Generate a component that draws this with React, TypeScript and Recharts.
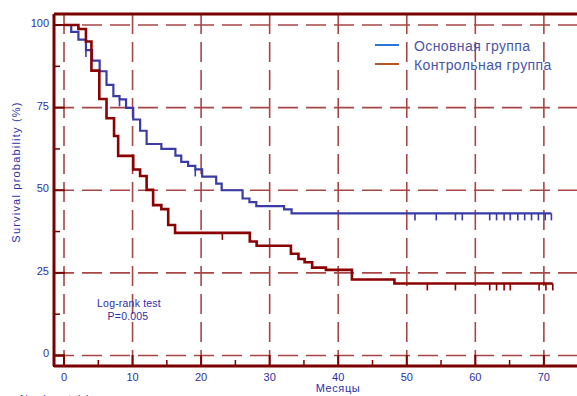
import React from 'react';
import {
  ComposedChart,
  Line,
  XAxis,
  YAxis,
  CartesianGrid,
  ReferenceLine,
  ReferenceArea,
} from 'recharts';

// Основная группа: moments of events (months) and survival (%) after each step
const mainEventTimes = [0, 1.05, 2.1, 3.2, 4.1, 5.2, 6.2, 7.2, 8.1, 9.05, 10.1, 11.1, 12.05, 14.2, 16.25, 17.1, 18.1, 19.15, 20.15, 22.2, 23.0, 26.05, 27.05, 28.05, 32.1, 33.2];
const mainSurvival = [100, 97.9, 95.6, 92.4, 89.2, 86.0, 81.9, 78.5, 77.5, 74.9, 71.4, 68.0, 64.0, 62.5, 60.5, 58.6, 57.4, 56.3, 54.1, 52.0, 50.0, 47.5, 46.4, 45.2, 44.2, 43.0];
const mainCensored = [3.2, 8.1, 19.15, 51.2, 54.3, 57.1, 58.1, 62.1, 63.1, 64.2, 65.1, 66.2, 67.2, 68.2, 69.2, 70.2, 71.1];

// Контрольная группа
const controlEventTimes = [0, 2.1, 3.2, 4.0, 5.15, 6.2, 7.3, 7.9, 10.1, 11.1, 12.05, 13.0, 14.2, 15.2, 16.2, 27.1, 28.1, 33.1, 34.2, 35.1, 36.2, 38.2, 42.0, 48.2];
const controlSurvival = [100, 98.8, 95.0, 86.2, 77.6, 71.8, 66.4, 60.4, 56.3, 54.3, 50.1, 45.5, 44.3, 39.5, 37.1, 34.5, 33.2, 30.8, 29.2, 28.2, 26.6, 25.9, 23.0, 21.8];
const controlCensored = [23.1, 53.0, 57.1, 62.1, 63.1, 64.2, 65.1, 69.3, 70.3, 71.3];

const xTicks = [0, 5, 10, 15, 20, 25, 30, 35, 40, 45, 50, 55, 60, 65, 70];
const yTicks = [0, 12.5, 25, 37.5, 50, 62.5, 75, 87.5, 100];
const gridX = [0, 10, 20, 30, 40, 50, 60, 70];
const gridY = [0, 25, 50, 75, 100];

const X_MIN = -1.46;
const X_MAX = 76;
const Y_MIN = -3.18;
const Y_MAX = 103.33;

const AXIS = '#7a0000';
const GRID = '#a84646';
const TEXT = '#2e2ea6';
const FONT = '"Liberation Sans", Arial, sans-serif';

type Pt = { t: number; s: number; c?: boolean };

const buildCurve = (times: number[], surv: number[], censored: number[]): Pt[] => {
  const pts: Pt[] = times.map((t, i) => ({ t, s: surv[i] }));
  censored.forEach((c) => {
    const same = pts.find((p) => p.t === c);
    if (same) {
      same.c = true;
      return;
    }
    let s = surv[0];
    times.forEach((t, i) => {
      if (t <= c) s = surv[i];
    });
    pts.push({ t: c, s, c: true });
  });
  return pts.sort((a, b) => a.t - b.t);
};

const mainData = buildCurve(mainEventTimes, mainSurvival, mainCensored);
const controlData = buildCurve(controlEventTimes, controlSurvival, controlCensored);

const censorMark = (color: string) => (props: any) => {
  const { cx, cy, payload, index } = props;
  if (!payload || !payload.c) return <g key={`n-${index}`} />;
  return <line key={`c-${index}`} x1={cx} x2={cx} y1={cy} y2={cy + 7} stroke={color} strokeWidth={1.6} />;
};

const XTick = (props: any) => {
  const { x, y, payload } = props;
  const major = payload.value % 10 === 0;
  return (
    <g>
      <line x1={x} x2={x} y1={y} y2={y - (major ? 11 : 6)} stroke={AXIS} strokeWidth={major ? 2 : 1.5} />
      {major && (
        <text x={x} y={y + 15} textAnchor="middle" fontSize={11} fill={TEXT} fontFamily={FONT}>
          {payload.value}
        </text>
      )}
    </g>
  );
};

const YTick = (props: any) => {
  const { x, y, payload } = props;
  const major = payload.value % 25 === 0;
  return (
    <g>
      <line x1={x} x2={x + (major ? 11 : 6)} y1={y} y2={y} stroke={AXIS} strokeWidth={major ? 2 : 1.5} />
      {major && (
        <text x={x - 5} y={y + 2} textAnchor="end" fontSize={11} fill={TEXT} fontFamily={FONT}>
          {payload.value}
        </text>
      )}
    </g>
  );
};

export default function App() {
  return (
    <div style={{ position: 'absolute', left: 0, top: 0, width: 577, height: 396, overflow: 'hidden', background: '#fff' }}>
      <ComposedChart width={600} height={396} margin={{ top: 14, right: 15, bottom: 0, left: 0 }}>
        <CartesianGrid
          verticalValues={gridX}
          horizontalValues={gridY}
          stroke={GRID}
          strokeWidth={1.6}
          strokeDasharray="20 8"
        />
        <XAxis
          type="number"
          dataKey="t"
          domain={[X_MIN, X_MAX]}
          allowDataOverflow
          ticks={xTicks}
          interval={0}
          height={30}
          tickLine={false}
          tickSize={0}
          tickMargin={0}
          axisLine={{ stroke: AXIS, strokeWidth: 3 }}
          tick={<XTick />}
        />
        <YAxis
          type="number"
          domain={[Y_MIN, Y_MAX]}
          allowDataOverflow
          ticks={yTicks}
          interval={0}
          width={54}
          tickLine={false}
          tickSize={0}
          tickMargin={0}
          axisLine={{ stroke: AXIS, strokeWidth: 3 }}
          tick={<YTick />}
        />
        <ReferenceLine y={Y_MAX} stroke={AXIS} strokeWidth={3} />
        <ReferenceArea x1={X_MIN} x2={0} y1={Y_MIN} y2={0} fill="none" stroke={AXIS} strokeWidth={2} />
        <Line
          data={mainData}
          dataKey="s"
          type="stepAfter"
          stroke="#3a3aa8"
          strokeWidth={2.2}
          dot={censorMark('#3a3aa8')}
          activeDot={false}
          isAnimationActive={false}
        />
        <Line
          data={controlData}
          dataKey="s"
          type="stepAfter"
          stroke="#8b0000"
          strokeWidth={2.6}
          dot={censorMark('#8b0000')}
          activeDot={false}
          isAnimationActive={false}
        />
      </ComposedChart>
      <svg width={577} height={396} style={{ position: 'absolute', left: 0, top: 0, pointerEvents: 'none' }} fontFamily={FONT}>
        <text transform="translate(20,172) rotate(-90)" textAnchor="middle" fontSize={11} fill={TEXT} letterSpacing={1.2}>
          Survival probability (%)
        </text>
        <text x={338} y={392} textAnchor="middle" fontSize={11} fill={TEXT} letterSpacing={0.6}>
          Месяцы
        </text>
        <text x={20} y={403} fontSize={11} fill={TEXT}>
          Number at risk
        </text>
        <text x={129} y={307} textAnchor="middle" fontSize={10.5} fill={TEXT} letterSpacing={0.2}>
          Log-rank test
        </text>
        <text x={128} y={320} textAnchor="middle" fontSize={10.5} fill={TEXT} letterSpacing={0.2}>
          P=0.005
        </text>
        <line x1={375} x2={399} y1={45} y2={45} stroke="#2a78d4" strokeWidth={2} />
        <line x1={375} x2={399} y1={64} y2={64} stroke="#b3561f" strokeWidth={2} />
        <text x={414} y={50.5} fontSize={14} fill="#4a55a8" letterSpacing={0.4}>
          Основная группа
        </text>
        <text x={414} y={69.5} fontSize={14} fill="#4a55a8" letterSpacing={0.4}>
          Контрольная группа
        </text>
      </svg>
    </div>
  );
}
